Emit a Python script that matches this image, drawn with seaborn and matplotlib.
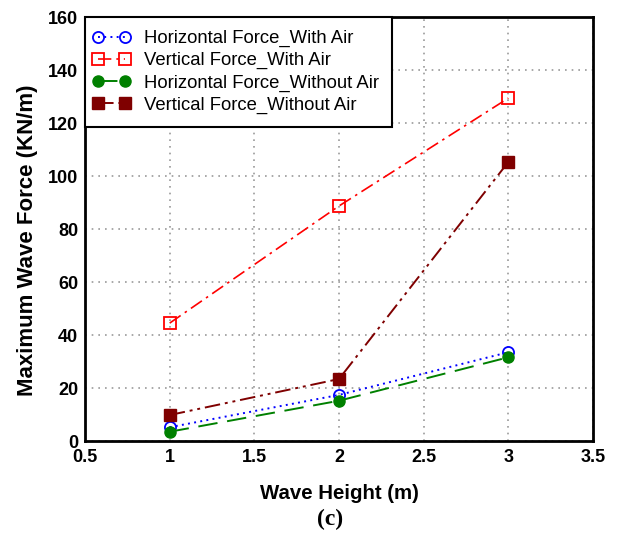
import matplotlib
matplotlib.use("Agg")
import matplotlib.pyplot as plt
from matplotlib.lines import Line2D
from matplotlib.legend_handler import HandlerLine2D
import seaborn as sns
import pandas as pd

wave_height = [1, 2, 3]
h_with_air = [5.2, 17.4, 33.5]
v_with_air = [44.5, 88.7, 129.4]
h_without_air = [3.5, 15.2, 31.6]
v_without_air = [9.8, 23.4, 105.3]

labels = ["Horizontal Force_With Air", "Vertical Force_With Air",
          "Horizontal Force_Without Air", "Vertical Force_Without Air"]
series = [h_with_air, v_with_air, h_without_air, v_without_air]

rows = []
for lab, vals in zip(labels, series):
    for x, v in zip(wave_height, vals):
        rows.append({"Wave Height": x, "Force": v, "Series": lab})
df = pd.DataFrame(rows)

sns.set_theme(style="white", rc={"text.color": "black", "axes.labelcolor": "black",
                                 "xtick.color": "black", "ytick.color": "black"})
plt.rcParams['font.family'] = ['Liberation Sans', 'DejaVu Sans']

fig = plt.figure(figsize=(6.21, 5.36), dpi=100)
ax = fig.add_axes([0.1369, 0.1772, 0.818, 0.791])

styles = {
    labels[0]: dict(color="blue", ls=(0, (1, 2.2)), marker="o", mfc="none", mec="blue", ms=8, mew=1.3, lw=1.4),
    labels[1]: dict(color="red", ls=(0, (8, 3, 1.5, 3)), marker="s", mfc="none", mec="red", ms=8, mew=1.3, lw=1.2),
    labels[2]: dict(color="green", ls=(0, (10, 5)), marker="o", mfc="green", mec="green", ms=8, mew=1, lw=1.4),
    labels[3]: dict(color="#7f0000", ls=(0, (8, 2.5, 1.5, 2.5, 1.5, 2.5)), marker="s", mfc="#7f0000", mec="#7f0000", ms=8, mew=1, lw=1.4),
}

for lab in labels:
    sub = df[df["Series"] == lab]
    st = styles[lab]
    sns.lineplot(data=sub, x="Wave Height", y="Force", ax=ax, label=lab,
                 color=st["color"], linestyle=st["ls"], linewidth=st["lw"],
                 marker=st["marker"], markerfacecolor=st["mfc"],
                 markeredgecolor=st["mec"], markersize=st["ms"],
                 markeredgewidth=st["mew"])

ax.set_xlim(0.5, 3.5)
ax.set_ylim(0, 160)
ax.set_xticks([0.5, 1, 1.5, 2, 2.5, 3, 3.5])
ax.set_xticklabels(["0.5", "1", "1.5", "2", "2.5", "3", "3.5"])
ax.set_yticks(range(0, 161, 20))
ax.grid(True, color="#999999", linestyle=(0, (1, 3)), linewidth=1.2)
ax.tick_params(axis="both", labelsize=13, length=0)
ax.tick_params(axis="x", pad=6)
ax.tick_params(axis="y", pad=5)
for t in ax.get_xticklabels() + ax.get_yticklabels():
    t.set_fontweight("bold")
for sp in ax.spines.values():
    sp.set_color("black")
    sp.set_linewidth(2)
    sp.set_visible(True)

ax.set_xlabel("Wave Height (m)", fontsize=14.7, fontweight="bold", labelpad=13)
ax.set_ylabel("Maximum Wave Force (KN/m)", fontsize=16, fontweight="bold")
ax.yaxis.set_label_coords(-0.093, 0.474)

leg = ax.legend(loc="upper left", bbox_to_anchor=(0.0, 1.0), fontsize=13.3,
                frameon=True, fancybox=False, borderaxespad=0.0, numpoints=2,
                handlelength=1.45, handletextpad=1.05, labelspacing=0.27,
                borderpad=0.7,
                handler_map={Line2D: HandlerLine2D(marker_pad=0)})
leg.get_frame().set_edgecolor("black")
leg.get_frame().set_linewidth(1.5)
leg.get_frame().set_alpha(1)

fig.text(0.531, 0.02, "(c)", fontsize=17, fontweight="bold",
         family=["Liberation Serif", "DejaVu Serif"], ha="center")

fig.savefig("out.png", dpi=100)
